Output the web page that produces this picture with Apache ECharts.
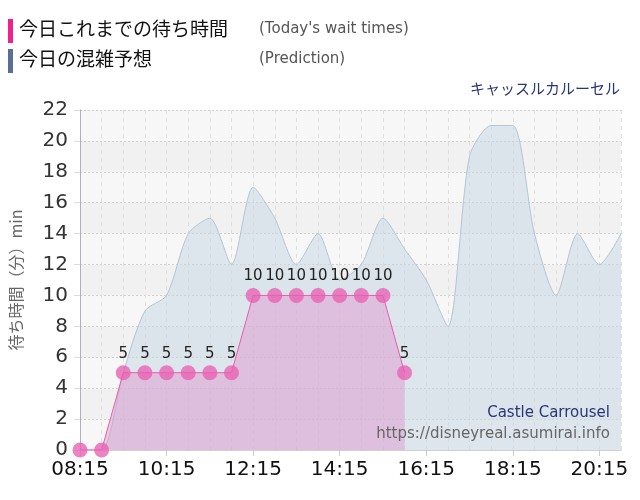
<!DOCTYPE html>
<html>
<head>
<meta charset="utf-8">
<script src="https://cdn.jsdelivr.net/npm/echarts@6/dist/echarts.min.js"></script>
<style>html,body{margin:0;padding:0;background:#fff;}#c{width:640px;height:500px;}</style>
</head>
<body>
<div id="c"></div>
<script>
var times = ['08:15','08:45','09:15','09:45','10:15','10:45','11:15','11:45','12:15','12:45','13:15','13:45','14:15','14:45','15:15','15:45','16:15','16:45','17:15','17:45','18:15','18:45','19:15','19:45','20:15','20:45'];
var actual = [0,0,5,5,5,5,5,5,10,10,10,10,10,10,10,5];
var prediction = [0,0,5,9,10,14,15,12,17,15,12,14,11,12,15,13,11,8,19,21,21,14,10,14,12,14];
var yTicks = [0,2,4,6,8,10,12,14,16,18,20,22];

var latin = 'DejaVu Sans, Verdana, sans-serif';
var jp = '"Noto Sans CJK JP", sans-serif';

var chart = echarts.init(document.getElementById('c'));
chart.setOption({
  animation: false,
  backgroundColor: '#fff',
  grid: {left: 80, right: 19, top: 110, bottom: 50, show: false},
  graphic: [
    {type: 'rect', shape: {x: 8, y: 19, width: 5, height: 24}, style: {fill: '#f0208c'}},
    {type: 'text', left: 19, top: 19, style: {text: '今日これまでの待ち時間', font: '19px ' + jp, fill: '#111'}},
    {type: 'text', left: 259, top: 22, style: {text: "(Today's wait times)", font: '15px ' + latin, fill: '#555'}},
    {type: 'rect', shape: {x: 8, y: 49, width: 5, height: 24}, style: {fill: '#5a6f98'}},
    {type: 'text', left: 19, top: 49, style: {text: '今日の混雑予想', font: '19px ' + jp, fill: '#111'}},
    {type: 'text', left: 259, top: 52, style: {text: '(Prediction)', font: '15px ' + latin, fill: '#555'}},
    {type: 'text', right: 20, top: 81, style: {text: 'キャッスルカルーセル', font: '15px ' + jp, fill: '#2b3575'}},
    {type: 'text', right: 30, top: 406, z: 100, style: {text: 'Castle Carrousel', font: '15px ' + latin, fill: '#2b3575'}},
    {type: 'text', right: 30, top: 427, z: 100, style: {text: 'https://disneyreal.asumirai.info', font: '15px ' + latin, fill: '#666'}}
  ],
  xAxis: {
    type: 'category',
    data: times,
    boundaryGap: false,
    axisLine: {show: true, lineStyle: {color: '#d0d0d0'}},
    axisTick: {show: true, interval: 3, length: 6, lineStyle: {color: '#ccc'}},
    axisLabel: {interval: 3, fontSize: 20, color: '#111', fontFamily: latin, margin: 10},
    splitLine: {show: true, interval: 0, lineStyle: {color: '#dedede', type: [4, 4]}}
  },
  yAxis: {
    type: 'value',
    min: 0, max: 22, interval: 2,
    name: '待ち時間（分）min',
    nameLocation: 'middle',
    nameRotate: 90,
    nameGap: 56,
    nameTextStyle: {fontSize: 16, color: '#666', fontFamily: jp},
    axisLine: {show: true, lineStyle: {color: '#b0b0bc'}},
    axisTick: {show: true, length: 6, lineStyle: {color: '#ddd'}},
    axisLabel: {fontSize: 20, color: '#333', fontFamily: latin, margin: 12,
      formatter: function (v) { return yTicks.indexOf(v) >= 0 ? String(v) : ''; }},
    splitLine: {show: true, lineStyle: {color: '#cfcfcf', type: [2, 2]}},
    splitArea: {show: true, areaStyle: {color: ['#f7f7f7', '#f1f1f1']}}
  },
  series: [
    {
      name: 'Prediction',
      type: 'line',
      data: prediction,
      smooth: 0.25,
      symbol: 'none',
      z: 2,
      lineStyle: {color: '#b4c4d2', width: 1},
      areaStyle: {color: 'rgba(200,216,229,0.78)'}
    },
    {
      name: 'Today',
      type: 'line',
      data: actual,
      symbol: 'circle',
      symbolSize: 15,
      showSymbol: true,
      showAllSymbol: true,
      z: 3,
      itemStyle: {color: 'rgba(232,96,178,0.78)'},
      lineStyle: {color: '#ea5cab', width: 1},
      areaStyle: {color: 'rgba(222,150,205,0.7)'},
      labelLayout: {hideOverlap: false},
      label: {show: true, position: 'top', distance: 4, fontSize: 15, color: '#222', fontFamily: latin,
        formatter: function (p) { return p.value > 0 ? String(p.value) : ''; }}
    }
  ]
});
</script>
</body>
</html>
